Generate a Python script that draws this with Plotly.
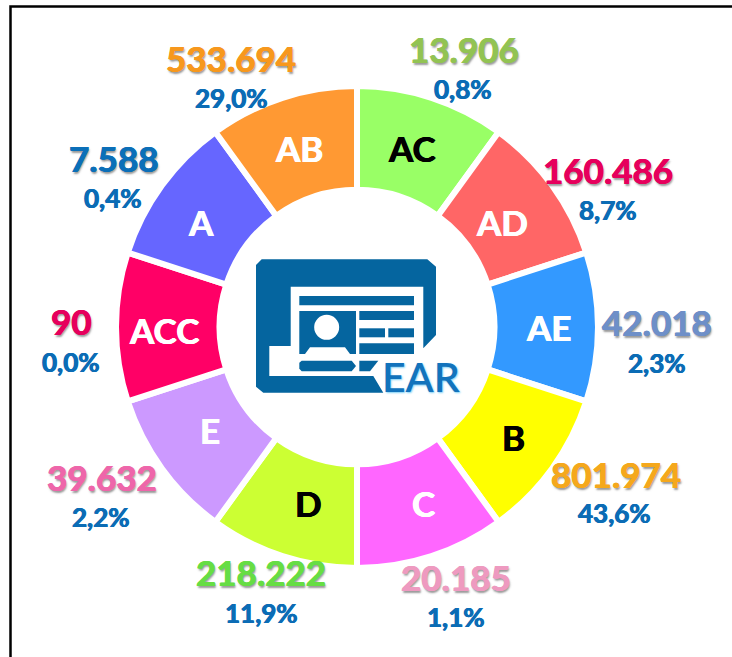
import plotly.graph_objects as go

W, H = 732, 657

# ---- data ----
segments = ["AC", "AD", "AE", "B", "C", "D", "E", "ACC", "A", "AB"]
segment_weight = [1, 1, 1, 1, 1, 1, 1, 1, 1, 1]  # the ring is drawn in equal sectors
counts = ["13.906", "160.486", "42.018", "801.974", "20.185", "218.222", "39.632", "90", "7.588", "533.694"]
shares = ["0,8%", "8,7%", "2,3%", "43,6%", "1,1%", "11,9%", "2,2%", "0,0%", "0,4%", "29,0%"]
centre_label = "EAR"

# ---- styles ----
sector_colors = ["#99FF66", "#FF6666", "#3399FF", "#FFFF00", "#FF66FF",
                 "#CCFF33", "#CC99FF", "#FF0066", "#6666FF", "#FF9933"]
label_colors = ["#000000", "#FFFFFF", "#FFFFFF", "#000000", "#FFFFFF",
                "#000000", "#FFFFFF", "#FFFFFF", "#FFFFFF", "#FFFFFF"]
count_colors = ["#92C353", "#E6005C", "#6E8FC8", "#F5A81C", "#EE9AC0",
                "#66DD44", "#EE66AA", "#E6005C", "#0B6FB8", "#F7981D"]
BLUE = "#0B6CB5"
ICON = "#05659F"
label_xy = [(412, 148), (502, 222), (548, 327), (513, 437), (423, 503),
            (308, 503), (210, 430), (164, 330), (201, 222), (299, 148)]
count_xy = [(464, 49), (608, 170), (657, 322), (616, 474), (456, 577),
            (261, 572), (102, 477), (71, 321), (114, 158), (231, 58)]
share_xy = [(463, 89), (608, 210), (657, 363), (614, 513), (456, 617),
            (261, 613), (101, 517), (71, 362), (113, 198), (231, 98)]

cx, cy, R = 357, 327, 241

fig = go.Figure(go.Pie(
    labels=segments, values=segment_weight, sort=False, direction="clockwise", rotation=0,
    hole=0.57, textinfo="none",
    marker=dict(colors=sector_colors, line=dict(color="#FFFFFF", width=6)),
    domain=dict(x=[(cx - R) / W, (cx + R) / W], y=[1 - (cy + R) / H, 1 - (cy - R) / H]),
    showlegend=False, hoverinfo="skip",
))


def heavy(c, tail=""):
    s = f"0.5px 0 0 {c}, -0.5px 0 0 {c}"
    return s + (", " + tail if tail else "")


anns = []
for t, (x, y), c in zip(segments, label_xy, label_colors):
    anns.append(dict(x=x, y=y, text=f"<b>{t}</b>", showarrow=False,
                     font=dict(family="Lato", size=35, color=c, shadow=heavy(c))))
for t, (x, y), c in zip(counts, count_xy, count_colors):
    anns.append(dict(x=x, y=y, text=f"<b>{t}</b>", showarrow=False,
                     font=dict(family="Lato", size=35, color=c,
                               shadow=heavy(c, "1px 2px 2px rgba(70,70,70,0.55)"))))
for t, (x, y) in zip(shares, share_xy):
    anns.append(dict(x=x, y=y, text=f"<b>{t}</b>", showarrow=False,
                     font=dict(family="Lato", size=26, color=BLUE, shadow=heavy(BLUE))))
anns.append(dict(x=421, y=376, text=centre_label, showarrow=False,
                 font=dict(family="Lato", size=41, color="#1273BC", weight=600,
                           shadow="1px 1px 2px #7FD0F5")))


def zp(points):
    return "M " + " L ".join(f"{230 + a / 3:.1f},{230 + b / 3:.1f}" for a, b in points) + " Z"


icon_paths = [
    [(95, 88), (592, 88), (618, 110), (618, 315), (580, 355), (580, 170), (182, 170), (182, 348),
     (118, 348), (118, 438), (430, 438), (460, 488), (100, 488), (78, 470), (78, 105)],
    [(208, 198), (552, 198), (552, 226), (208, 226)],
    [(388, 243), (552, 243), (552, 270), (388, 270)],
    [(388, 295), (465, 295), (465, 322), (388, 322)],
    [(475, 295), (552, 295), (552, 322), (475, 322)],
    [(388, 340), (552, 340), (552, 372), (388, 372)],
    [(208, 243), (378, 243), (378, 372), (360, 372), (345, 352), (240, 352), (225, 372), (208, 372)],
    [(215, 392), (365, 392), (378, 408), (365, 424), (215, 424), (208, 416), (208, 398)],
    [(388, 392), (445, 392), (420, 424), (388, 424)],
]
shapes = [dict(type="path", xref="x", yref="y", path=zp(p), fillcolor=ICON, line_width=0, layer="above")
          for p in icon_paths]
# portrait head
hx, hy, hr = 230 + 290 / 3, 230 + 292 / 3, 12.5
shapes.append(dict(type="circle", xref="x", yref="y", x0=hx - hr, x1=hx + hr, y0=hy - hr, y1=hy + hr,
                   fillcolor="#FFFFFF", line_width=0, layer="above"))
# frame: left and top only are visible in the reference
shapes.append(dict(type="path", xref="x", yref="y", path="M 10.5,670 L 10.5,6.5 L 740,6.5",
                   line=dict(color="#000000", width=2.5), layer="above"))

fig.update_layout(
    width=W, height=H, autosize=False,
    margin=dict(l=0, r=0, t=0, b=0),
    paper_bgcolor="#FFFFFF", plot_bgcolor="#FFFFFF",
    xaxis=dict(range=[0, W], visible=False, fixedrange=True),
    yaxis=dict(range=[H, 0], visible=False, fixedrange=True),
    annotations=anns, shapes=shapes,
)
fig.write_html("out.html", config=dict(displayModeBar=False),
               post_script="document.body.style.margin='0';document.body.style.overflow='hidden';")
